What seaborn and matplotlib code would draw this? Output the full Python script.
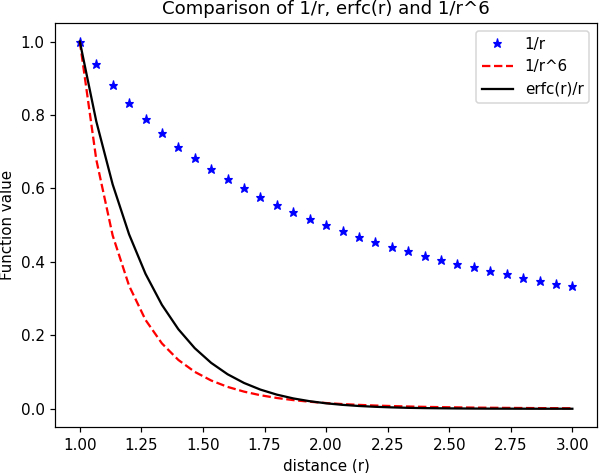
import matplotlib
matplotlib.use('Agg')
import matplotlib.pyplot as plt
import seaborn as sns
import pandas as pd

# distance grid (31 points, 1.0 .. 3.0)
r = [1.0000, 1.0667, 1.1333, 1.2000, 1.2667, 1.3333, 1.4000, 1.4667, 1.5333, 1.6000,
     1.6667, 1.7333, 1.8000, 1.8667, 1.9333, 2.0000, 2.0667, 2.1333, 2.2000, 2.2667,
     2.3333, 2.4000, 2.4667, 2.5333, 2.6000, 2.6667, 2.7333, 2.8000, 2.8667, 2.9333,
     3.0000]

inv_r = [1.000, 0.938, 0.882, 0.833, 0.789, 0.750, 0.714, 0.682, 0.652, 0.625,
         0.600, 0.577, 0.556, 0.536, 0.517, 0.500, 0.484, 0.469, 0.455, 0.441,
         0.429, 0.417, 0.405, 0.395, 0.385, 0.375, 0.366, 0.357, 0.349, 0.341,
         0.333]

inv_r6 = [1.000, 0.679, 0.472, 0.335, 0.242, 0.178, 0.133, 0.1005, 0.077, 0.0596,
          0.0467, 0.0369, 0.0294, 0.0236, 0.0192, 0.0156, 0.0128, 0.0106, 0.0088, 0.0074,
          0.0062, 0.0052, 0.0044, 0.0038, 0.0032, 0.0028, 0.0024, 0.0021, 0.0018, 0.0016,
          0.0014]

erfc_r = [1.000, 0.783, 0.611, 0.475, 0.3675, 0.283, 0.2167, 0.165, 0.125, 0.094,
          0.0703, 0.0522, 0.0385, 0.0282, 0.0206, 0.0149, 0.0107, 0.0076, 0.0054, 0.0038,
          0.0026, 0.0018, 0.0013, 0.0009, 0.0006, 0.0004, 0.0003, 0.0002, 0.0001, 0.0001,
          0.00005]

df = pd.DataFrame({'r': r, 'inv_r': inv_r, 'inv_r6': inv_r6, 'erfc_r': erfc_r})

# reference is a slightly upscaled default render, so bump the dpi instead of font sizes
DPI = 108.7
fig = plt.figure(figsize=(600 / DPI, 473 / DPI), dpi=DPI)
ax = fig.add_axes([0.092, 0.097, 0.903, 0.854])

sns.lineplot(data=df, x='r', y='inv_r', ax=ax, color='b', marker='*', markersize=6,
             markeredgecolor='b', linestyle='', label='1/r')
sns.lineplot(data=df, x='r', y='inv_r6', ax=ax, color='r', linestyle='--', linewidth=1.5,
             label='1/r^6')
sns.lineplot(data=df, x='r', y='erfc_r', ax=ax, color='k', linestyle='-', linewidth=1.5,
             label='erfc(r)/r')

ax.set_title('Comparison of 1/r, erfc(r) and 1/r^6')
ax.set_xlabel('distance (r)')
ax.set_ylabel('Function value')
ax.legend(loc='upper right')

fig.savefig('out.png', dpi=DPI)
